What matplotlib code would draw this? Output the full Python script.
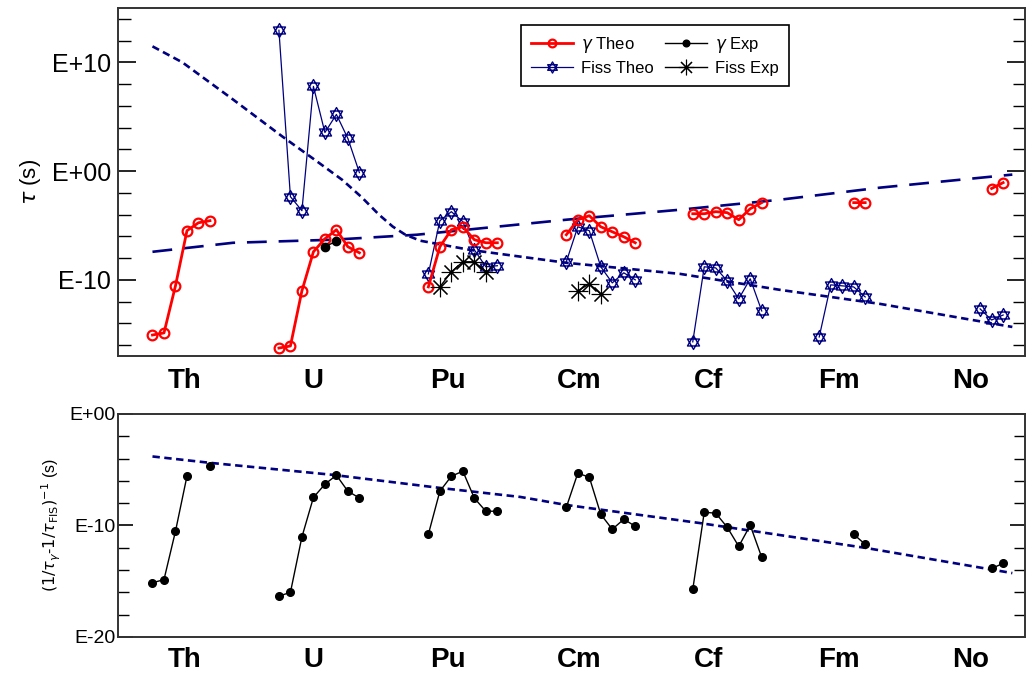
import numpy as np
import matplotlib
matplotlib.use("Agg")
import matplotlib.pyplot as plt
from matplotlib.path import Path
from matplotlib.ticker import FixedLocator, FuncFormatter

plt.rcParams['font.family'] = ['Liberation Sans', 'DejaVu Sans']
plt.rcParams['mathtext.fontset'] = 'dejavusans'

nan = np.nan

# element labels and their positions on the isotope axis
elements = ["Th", "U", "Pu", "Cm", "Cf", "Fm", "No"]
element_pos = [5.8, 17.0, 28.7, 40.1, 51.4, 62.7, 74.2]

# ---------------- top panel: lifetimes (log10 of tau in s) ----------------
gamma_theo_x = [3, 4, 5, 6, 7, 8, nan,
                14, 15, 16, 17, 18, 19, 20, 21, nan,
                27, 28, 29, 30, 31, 32, 33, nan,
                39, 40, 41, 42, 43, 44, 45, nan,
                50, 51, 52, 53, 54, 55, 56, nan,
                64, 65, nan,
                76, 77]
gamma_theo = [-15.07, -14.88, -10.55, -5.48, -4.75, -4.56, nan,
              -16.27, -16.08, -11.01, -7.42, -6.22, -5.39, -6.96, -7.51, nan,
              -10.65, -6.96, -5.39, -5.12, -6.31, -6.59, -6.59, nan,
              -5.85, -4.47, -4.10, -5.12, -5.58, -6.04, -6.59, nan,
              -3.92, -3.92, -3.73, -3.82, -4.47, -3.46, -2.90, nan,
              -2.90, -2.90, nan,
              -1.60, -1.06]

gamma_exp_x = [18, 19]
gamma_exp = [-6.95, -6.45]

fiss_theo_x = [14, 15, 16, 17, 18, 19, 20, 21, nan,
               27, 28, 29, 30, 31, 32, 33, nan,
               39, 40, 41, 42, 43, 44, 45, nan,
               50, 51, 52, 53, 54, 55, 56, nan,
               61, 62, 63, 64, 65, nan,
               75, 76, 77]
fiss_theo = [12.95, -2.35, -3.64, 7.79, 3.55, 5.21, 3.00, -0.14, nan,
             -9.45, -4.56, -3.73, -4.65, -7.24, -8.80, -8.70, nan,
             -8.34, -5.12, -5.48, -8.80, -10.28, -9.35, -10.00, nan,
             -15.70, -8.80, -8.90, -10.10, -11.75, -9.90, -12.86, nan,
             -15.25, -10.46, -10.55, -10.65, -11.57, nan,
             -12.67, -13.69, -13.23]

fiss_exp_x = [28, 29, 30, 31, 32, nan, 40, 41, 42]
fiss_exp = [-10.65, -9.26, -8.34, -8.34, -9.26, nan, -11.01, -10.37, -11.29]

# systematic fits
fiss_fit_x = [3.0, 5.6, 10.0, 14.3, 17.3, 19.5, 21.2, 22.7, 23.9, 25.0, 26.3,
              30.6, 39.0, 48.9, 57.6, 66.3, 77.8]
fiss_fit = [11.47, 10.0, 6.59, 3.18, 0.90, -0.80, -2.40, -4.00, -5.10, -5.85, -6.40,
            -7.24, -8.43, -9.45, -10.92, -12.21, -14.33]

gamma_fit_x = [3.0, 10.0, 18.7, 26.0, 39.0, 48.9, 57.6, 66.3, 77.8]
gamma_fit = [-7.42, -6.59, -6.31, -5.85, -4.47, -3.55, -2.63, -1.52, -0.32]

# ---------------- bottom panel: combined lifetime ----------------
comb_x = gamma_theo_x
comb = [-15.13, -14.86, -10.52, -5.58, nan, -4.68, nan,
        -16.33, -16.00, -11.03, -7.49, -6.30, -5.49, -6.93, -7.53, nan,
        -10.79, -6.93, -5.58, -5.13, -7.55, -8.72, -8.72, nan,
        -8.37, -5.31, -5.67, -9.00, -10.34, -9.44, -10.07, nan,
        -15.74, -8.81, -8.90, -10.16, -11.87, -9.98, -12.86, nan,
        -10.79, -11.69, nan,
        -13.85, -13.40]

comb_fit_x = [3.0, 8.0, 18.7, 28.0, 35.0, 39.0, 50.6, 65.1, 77.8]
comb_fit = [-3.81, -4.38, -5.46, -6.63, -7.44, -8.16, -9.78, -12.02, -14.27]


def p10(v):
    return np.power(10.0, np.asarray(v, dtype=float))


# star of David marker (two triangles)
s = 0.866
hexagram = Path([(0, 1), (-s, -0.5), (s, -0.5), (0, 1),
                 (0, -1), (-s, 0.5), (s, 0.5), (0, -1)],
                [Path.MOVETO, Path.LINETO, Path.LINETO, Path.CLOSEPOLY,
                 Path.MOVETO, Path.LINETO, Path.LINETO, Path.CLOSEPOLY])

navy = "#000080"
fmt = FuncFormatter(lambda v, pos: "E%+03d" % int(round(np.log10(v))))

fig = plt.figure(figsize=(10.26, 6.75), dpi=100)
ax1 = fig.add_axes([0.115, 0.4726, 0.884, 0.5156])
ax2 = fig.add_axes([0.115, 0.0563, 0.884, 0.3304])

# top panel
ax1.plot(fiss_fit_x, p10(fiss_fit), color=navy, lw=1.9, dashes=(2.8, 1.7))
ax1.plot(gamma_fit_x, p10(gamma_fit), color=navy, lw=1.9, dashes=(7.5, 4.5))
l_ft, = ax1.plot(fiss_theo_x, p10(fiss_theo), color=navy, lw=0.9, marker=hexagram,
                 ms=10, mfc='none', mec=navy, mew=1.0, label="Fiss Theo")
l_gt, = ax1.plot(gamma_theo_x, p10(gamma_theo), color='red', lw=2.0, marker='o',
                 ms=7, mfc='none', mec='red', mew=1.6, label=r"$\gamma$ Theo")
l_ge, = ax1.plot(gamma_exp_x, p10(gamma_exp), color='black', lw=1.0, marker='o',
                 ms=6, label=r"$\gamma$ Exp")
l_fe, = ax1.plot(fiss_exp_x, p10(fiss_exp), color='black', lw=1.0, marker=(8, 2, 0),
                 ms=14, mew=0.8, label="Fiss Exp")

ax1.set_yscale('log')
ax1.set_ylim(1e-17, 1e15)
ax1.yaxis.set_major_locator(FixedLocator([1e-10, 1e0, 1e10]))
ax1.yaxis.set_minor_locator(FixedLocator([10.0 ** k for k in range(-16, 15, 2)]))
ax1.yaxis.set_major_formatter(fmt)
ax1.yaxis.set_minor_formatter(FuncFormatter(lambda v, pos: ""))
ax1.tick_params(axis='y', which='major', direction='in', length=13, width=1.2,
                right=True, labelsize=18, pad=5)
ax1.tick_params(axis='y', which='minor', direction='in', length=9, width=1.0, right=True)
ax1.set_ylabel(r"$\tau$ (s)", fontsize=16, labelpad=6)

leg = ax1.legend(handles=[l_gt, l_ft, l_ge, l_fe], ncol=2, loc='upper left',
                 bbox_to_anchor=(521 / 1026, 1 - 25 / 675), bbox_transform=fig.transFigure,
                 borderaxespad=0, fontsize=12, fancybox=False, framealpha=1,
                 edgecolor='black', handlelength=2.5, handletextpad=0.5,
                 columnspacing=0.7, labelspacing=0.35, borderpad=0.6, markerscale=0.8)
leg.get_frame().set_linewidth(1.2)

# bottom panel
ax2.plot(comb_fit_x, p10(comb_fit), color=navy, lw=1.9, dashes=(2.8, 1.7))
ax2.plot(comb_x, p10(comb), color='black', lw=1.0, marker='o', ms=5.5)

ax2.set_yscale('log')
ax2.set_ylim(1e-20, 1e0)
ax2.yaxis.set_major_locator(FixedLocator([1e-20, 1e-10, 1e0]))
ax2.yaxis.set_minor_locator(FixedLocator([10.0 ** k for k in range(-18, 0, 2)]))
ax2.yaxis.set_major_formatter(fmt)
ax2.yaxis.set_minor_formatter(FuncFormatter(lambda v, pos: ""))
ax2.tick_params(axis='y', which='major', direction='in', length=11, width=1.2,
                right=True, labelsize=14, pad=2)
ax2.tick_params(axis='y', which='minor', direction='in', length=8, width=1.0, right=True)
ax2.set_ylabel(r"$(1/\tau_{\gamma}$-$1/\tau_{\mathrm{FIS}})^{-1}$ (s)", fontsize=11.5, labelpad=4)

for ax, pad in ((ax1, 9), (ax2, 7)):
    ax.set_xlim(0, 78.9)
    ax.set_xticks(element_pos)
    ax.set_xticklabels(elements, fontsize=20, fontweight='bold')
    ax.tick_params(axis='x', length=0, pad=pad)
    for sp in ax.spines.values():
        sp.set_linewidth(1.4)
        sp.set_color('#333333')

fig.savefig("out.png", dpi=100)
